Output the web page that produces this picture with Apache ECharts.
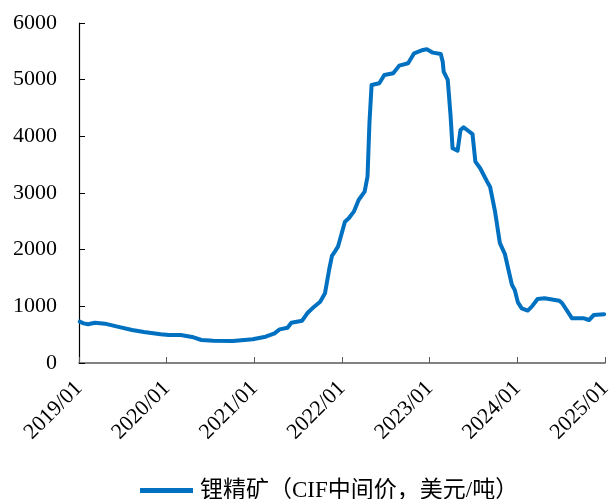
<!DOCTYPE html>
<html>
<head>
<meta charset="utf-8">
<script src="https://cdn.jsdelivr.net/npm/echarts@6/dist/echarts.min.js"></script>
<style>
  html, body { margin: 0; padding: 0; background: #fff; }
  #chart { width: 615px; height: 499px; }
</style>
</head>
<body>
<div id="chart"></div>
<script>
const seriesName = '锂精矿（CIF中间价，美元/吨）'
const dates = [
  '2019-01-04', '2019-01-20', '2019-02-08', '2019-03-08', '2019-04-19', '2019-06-10',
  '2019-08-10', '2019-09-28', '2019-12-07', '2020-01-10', '2020-02-28', '2020-04-22',
  '2020-05-25', '2020-07-13', '2020-10-04', '2020-12-25', '2021-02-17', '2021-03-26',
  '2021-04-16', '2021-05-19', '2021-06-04', '2021-07-19', '2021-08-09', '2021-09-07',
  '2021-10-02', '2021-10-10', '2021-10-22', '2021-11-08', '2021-11-20', '2021-12-02',
  '2021-12-15', '2022-01-13', '2022-01-29', '2022-02-19', '2022-03-11', '2022-04-05',
  '2022-04-17', '2022-04-21', '2022-04-25', '2022-05-04', '2022-06-05', '2022-06-26',
  '2022-08-02', '2022-08-27', '2022-10-03', '2022-10-28', '2022-12-04', '2022-12-20',
  '2023-01-14', '2023-02-16', '2023-02-24', '2023-02-28', '2023-03-17', '2023-03-29',
  '2023-04-06', '2023-04-27', '2023-05-09', '2023-05-22', '2023-06-28', '2023-07-10',
  '2023-07-30', '2023-08-28', '2023-09-09', '2023-09-30', '2023-10-20', '2023-11-10',
  '2023-12-09', '2023-12-21', '2024-01-03', '2024-01-19', '2024-02-13', '2024-03-01',
  '2024-03-25', '2024-04-23', '2024-06-24', '2024-07-06', '2024-08-16', '2024-10-05',
  '2024-10-26', '2024-11-15', '2024-12-28'
]
const prices = [
  729, 700, 683, 711, 694, 641,
  582, 547, 506, 494, 494, 453,
  406, 394, 388, 418, 464, 524,
  594, 623, 711, 747, 877, 994,
  1082, 1082, 1230, 1641, 1889, 1965,
  2053, 2494, 2554, 2671, 2877, 3024,
  3288, 3759, 4230, 4907, 4937, 5083,
  5113, 5248, 5290, 5466, 5524, 5537,
  5477, 5454, 5318, 5142, 4995, 4347,
  3789, 3747, 4112, 4160, 4040, 3553,
  3436, 3200, 3112, 2670, 2115, 1920,
  1380, 1288, 1070, 965, 925, 994,
  1130, 1142, 1100, 1054, 789, 789,
  759, 847, 860
]
const yearTicks = [2019, 2020, 2021, 2022, 2023, 2024, 2025]

// date string -> decimal year, so a plain value axis can place it
function toYear(d) {
  const [y, m, dd] = d.split('-').map(Number)
  const start = Date.UTC(y, 0, 1)
  const end = Date.UTC(y + 1, 0, 1)
  return y + (Date.UTC(y, m - 1, dd) - start) / (end - start)
}

const serif = '"Liberation Serif", "Times New Roman", "Noto Sans CJK SC", serif'
const chart = echarts.init(document.getElementById('chart'))
chart.setOption({
  animation: false,
  textStyle: { fontFamily: serif },
  grid: { left: 79, right: 4, top: 23, bottom: 136, containLabel: false },
  legend: {
    top: 474,
    left: 135,
    data: [seriesName],
    icon: 'rect',
    itemWidth: 53,
    itemHeight: 5,
    itemGap: 4,
    textStyle: { fontSize: 23, color: '#000', fontFamily: serif, padding: [0, 0, 0, 2] }
  },
  xAxis: {
    type: 'value',
    min: yearTicks[0],
    max: yearTicks[yearTicks.length - 1],
    interval: 1,
    splitLine: { show: false },
    axisLine: { lineStyle: { color: '#595959', width: 1.5 } },
    axisTick: { inside: true, length: 6, lineStyle: { color: '#595959' } },
    axisLabel: {
      rotate: 45,
      margin: 22,
      fontSize: 22,
      color: '#000',
      fontFamily: serif,
      formatter: v => v + '/01'
    }
  },
  yAxis: {
    type: 'value',
    min: 0,
    max: 6000,
    interval: 1000,
    splitLine: { show: false },
    axisLine: { show: true, lineStyle: { color: '#000', width: 1.2 } },
    axisTick: { show: true, inside: true, length: 6, lineStyle: { color: '#000' } },
    axisLabel: { fontSize: 22, color: '#000', margin: 22, fontFamily: serif, formatter: v => String(v) }
  },
  series: [
    {
      name: seriesName,
      type: 'line',
      showSymbol: false,
      data: dates.map((d, i) => [toYear(d), prices[i]]),
      lineStyle: { color: '#0070C0', width: 4, join: 'round', cap: 'round' },
      itemStyle: { color: '#0070C0' }
    }
  ]
})
</script>
</body>
</html>
